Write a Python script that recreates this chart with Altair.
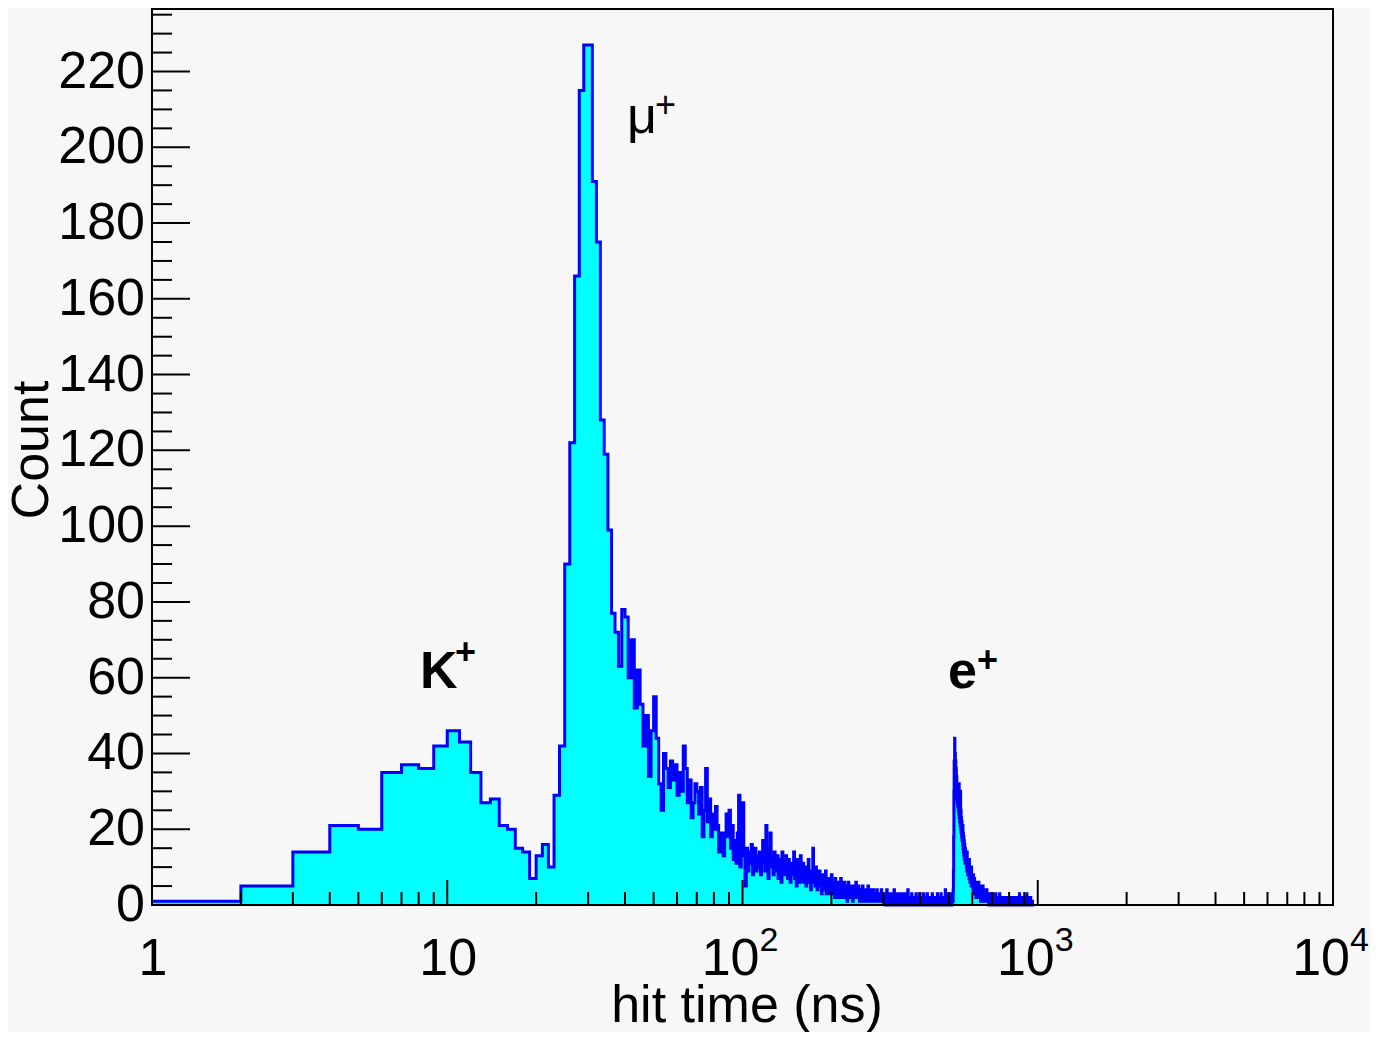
import altair as alt
import pandas as pd

# ---------------- data: counts per 1-ns bin, bin i covers [i, i+1) ns ----------------
counts_k_mu_peak = [1, 5, 14, 21, 20, 35, 37, 36, 42, 46, 43, 35, 27, 28, 21, 20, 15, 14, 7, 13,
                    16, 10, 29, 42, 90, 122, 166, 215, 227, 227, 191, 175, 128, 119, 99, 77, 72]
counts_mu_tail = [63, 78, 76, 60, 70, 52, 62, 53, 42, 50,
                  34, 46, 55, 44, 32, 25, 40, 36, 31, 38,
                  33, 37, 29, 35, 30, 42, 36, 27, 33, 23,
                  27, 32, 30, 24, 31, 18, 25, 36, 22, 28,
                  18, 24, 20, 26, 21, 14, 19, 16, 13, 19,
                  24, 18, 25, 15, 21, 12, 17, 11, 19, 29,
                  10, 16, 27, 13, 5, 15, 9, 14, 11, 16,
                  8, 12, 15, 9, 13]
counts_113_200 = [10, 14, 8, 12, 17, 11, 9, 21, 13, 7, 15, 19, 10, 12, 8, 14,
                  11, 9, 13, 7, 10, 12, 6, 14, 9, 11, 8, 13, 10, 7, 12, 9, 6, 11, 8, 10, 14, 7, 9, 5,
                  12, 8, 10, 6, 13,
                  9, 7, 11, 6, 8, 10, 5, 9, 7, 12, 6, 8, 4, 9, 7, 15, 6, 8, 5, 10, 7, 4, 8, 6, 9, 5,
                  7, 3, 8, 6, 4, 7, 5, 9, 3, 6, 4, 7, 5, 3, 6, 4, 8]
counts_201_300 = [5, 3, 6, 4, 2, 7, 4, 5, 3, 6, 2, 4, 5, 3, 7, 4, 2, 5, 3, 4, 6, 2, 3, 5, 4,
                  1, 3, 6, 2, 4, 3, 5, 2, 4, 3, 1, 5, 3, 2, 4, 3, 6, 2, 3, 4, 2, 5, 3, 1, 4,
                  3, 2, 4, 3, 5, 1, 3, 2, 4, 2, 3, 1, 4, 2, 3, 5, 2, 3, 1, 2, 4, 3, 2, 1, 3,
                  2, 4, 1, 2, 3, 2, 1, 3, 2, 4, 1, 2, 3, 1, 2, 3, 2, 1, 2, 4, 1, 2, 3, 1, 2]
counts_301_510 = [2, 1, 3, 0, 2, 1, 2, 4, 1, 2, 0, 1, 3, 2, 1, 2, 0, 1, 2, 3, 1, 0, 2, 1, 2,
                  4, 1, 0, 2, 1, 3, 1, 2, 0, 1, 2, 1, 3, 0, 1, 2, 1, 0, 2, 1, 3, 1, 0, 2, 1,
                  1, 2, 0, 1, 3, 1, 0, 2, 1, 1, 0, 2, 4, 1, 0, 1, 2, 0, 1, 2, 1, 0, 1, 3, 0,
                  1, 2, 0, 1, 1, 2, 0, 1, 0, 2, 1, 3, 0, 1, 2, 0, 1, 1, 0, 2, 1, 0, 3, 1, 0,
                  1, 2, 0, 1, 0, 2, 1, 0, 1, 3, 0, 1, 2, 0, 1, 0, 1, 2, 0, 1, 0, 3, 1, 0, 1,
                  2, 0, 1, 0, 1, 2, 0, 1, 0, 2, 1, 0, 1, 3, 0, 1, 0, 2, 1, 0, 1, 0, 2, 1, 0,
                  1, 0, 2, 1, 0, 1, 3, 0, 1, 0, 2, 1, 0, 1, 2, 0, 1, 0, 1, 3, 0, 1, 0, 2, 1,
                  0, 1, 2, 0, 1, 0, 2, 1, 0, 1, 4, 0, 1, 2, 0, 1, 0, 2, 1, 0, 3, 1, 0, 1, 2,
                  0, 1, 2, 0, 1, 3, 1, 0, 2, 1]
counts_e_peak = [1, 0, 2, 1, 2, 1, 4, 9, 18, 30,
                 38, 35, 44, 37, 40, 33, 38, 31, 36, 30,
                 34, 28, 32, 27, 31, 26, 30, 25, 29, 24,
                 32, 23, 28, 22, 26, 21, 30, 20, 25, 19,
                 23, 18, 22, 17, 20, 16, 21, 15, 19, 14,
                 18, 13, 17, 12, 16, 14, 11, 15, 12, 14,
                 11, 13, 10, 12, 9, 14, 10, 11, 8, 12,
                 9, 11, 8, 10, 7, 12, 8, 9, 6, 10,
                 7, 9, 6, 8, 5, 10, 6, 7, 5, 8,
                 5, 7, 4, 6, 8, 4, 6, 3, 5, 7, 4, 5, 3, 6, 4, 5, 2, 6, 3, 4]
counts_621_700 = [5, 3, 4, 6, 2, 4, 3, 5, 2, 4, 6, 3, 2, 4, 3, 5, 2, 3, 4, 1,
                  3, 5, 2, 3, 4, 2, 3, 1, 4, 2, 3, 5, 2, 1, 3, 2, 4, 1, 3, 2,
                  3, 1, 2, 4, 1, 3, 2, 1, 3, 2, 1, 4, 2, 1, 3, 2, 1, 2, 3, 1,
                  2, 0, 3, 1, 2, 1, 3, 0, 2, 1, 2, 1, 0, 3, 1, 2, 1, 0, 2, 1]
counts_701_800 = [2, 1, 3, 0, 1, 2, 1, 0, 2, 1, 3, 1, 0, 2, 1, 1, 0, 2, 1, 0,
                  3, 1, 0, 1, 2, 0, 1, 1, 0, 2, 1, 0, 1, 2, 0, 1, 0, 1, 2, 0,
                  1, 0, 3, 1, 0, 1, 0, 1, 2, 0, 1, 0, 1, 0, 2, 1, 0, 1, 0, 1,
                  2, 0, 1, 0, 0, 1, 2, 0, 1, 0, 1, 0, 1, 2, 0, 0, 1, 0, 1, 0,
                  2, 0, 1, 0, 0, 1, 0, 2, 0, 1, 0, 0, 1, 0, 1, 0, 2, 0, 0, 1]
counts_801_960 = [0, 1, 0, 0, 2, 0, 1, 0, 0, 1, 0, 0, 1, 0, 2, 0, 0, 1, 0, 0,
                  0, 1, 0, 1, 0, 0, 2, 0, 0, 1, 0, 0, 1, 0, 0, 0, 1, 0, 2, 0,
                  0, 1, 0, 0, 0, 1, 0, 0, 1, 0,
                  0, 0, 1, 0, 0, 2, 0, 0, 0, 1, 0, 0, 1, 0, 0, 0, 3, 0, 0, 1,
                  0, 0, 0, 1, 0, 0, 0, 2, 0, 0, 0, 1, 0, 0, 0, 0, 1, 0, 0, 0,
                  2, 0, 0, 0, 1, 0, 0, 0, 0, 1,
                  0, 0, 0, 1, 0, 0, 0, 2, 0, 0, 0, 0, 1, 0, 0, 0, 0, 3, 0, 0,
                  0, 0, 1, 0, 0, 0, 0, 0, 2, 0, 0, 0, 0, 1, 0, 0, 0, 0, 0, 1,
                  0, 0, 0, 0, 0, 2, 0, 0, 0, 0, 0, 1, 0, 0, 0, 0, 0, 0, 1, 0]

counts = (counts_k_mu_peak + counts_mu_tail + counts_113_200 + counts_201_300 +
          counts_301_510 + counts_e_peak + counts_621_700 + counts_701_800 + counts_801_960)

# axis tick values / labels / titles
y_major = list(range(0, 221, 20))
y_minor = [v for v in range(5, 236, 5) if v % 20 != 0]
x_major = [1, 10, 100, 1000, 10000]
x_minor = [m * d for d in [1, 10, 100, 1000] for m in range(2, 10)]
x_label_base = ["1", "10", "10", "10", "10"]
x_label_exp = ["", "", "2", "3", "4"]
x_title = "hit time (ns)"
y_title = "Count"

# peak annotations
ann_main = ["μ", "K", "e"]
ann_t = [40.6, 8.09, 496.6]
ann_c = [203.8, 57.3, 57.3]
ann_bold = [False, True, True]
ann_plus_t = [50.5, 10.62, 622.6]
ann_plus_c = [208.0, 63.6, 61.5]

# ---------------- tables ----------------
edges = list(range(1, len(counts) + 2))
hist = pd.DataFrame({"t": edges, "count": counts + [0]})
ymaj_df = pd.DataFrame({"v": y_major, "lab": [str(v) for v in y_major]})
ymin_df = pd.DataFrame({"v": y_minor})
xmaj_df = pd.DataFrame({"v": x_major})
xmin_df = pd.DataFrame({"v": x_minor})
xlab_df = pd.DataFrame({"v": x_major, "base": x_label_base, "exp": x_label_exp})
ann_df = pd.DataFrame({"t": ann_t, "c": ann_c, "label": ann_main, "bold": ann_bold,
                       "pt": ann_plus_t, "pc": ann_plus_c, "plus": ["+"] * 3})
title_df = pd.DataFrame({"xt": [x_title], "yt": [y_title]})

W, H = 1181, 896
FONT = "Liberation Sans"
xscale = alt.Scale(type="log", domain=[1, 10000], nice=False)
yscale = alt.Scale(domain=[0, 236.5], nice=False, zero=True)


def X(field):
    return alt.X(field, scale=xscale, axis=None)


def Y(field):
    return alt.Y(field, scale=yscale, axis=None)


area = alt.Chart(hist).mark_area(interpolate="step-after", color="#00ffff").encode(
    x=X("t:Q"), y=Y("count:Q"))

line = alt.Chart(hist).mark_line(interpolate="step-after", color="#0000ff",
                                 strokeWidth=3).encode(x=X("t:Q"), y=Y("count:Q"))

frame_bottom = alt.Chart(ymaj_df).mark_rule(color="black", strokeWidth=2).encode(
    x=alt.value(0), x2=alt.value(W), y=alt.value(H))
frame_left = alt.Chart(ymaj_df).mark_rule(color="black", strokeWidth=2).encode(
    x=alt.value(0), y=alt.value(0), y2=alt.value(H))

ytick_major = alt.Chart(ymaj_df).mark_rule(color="black", strokeWidth=2).encode(
    y=Y("v:Q"), x=alt.value(0), x2=alt.value(38))
ytick_minor = alt.Chart(ymin_df).mark_rule(color="black", strokeWidth=2).encode(
    y=Y("v:Q"), x=alt.value(0), x2=alt.value(20))
xtick_major = alt.Chart(xmaj_df).mark_rule(color="black", strokeWidth=2).encode(
    x=X("v:Q"), y=alt.value(H), y2=alt.value(H - 25))
xtick_minor = alt.Chart(xmin_df).mark_rule(color="black", strokeWidth=2).encode(
    x=X("v:Q"), y=alt.value(H), y2=alt.value(H - 13))

ylab = alt.Chart(ymaj_df).mark_text(
    font=FONT, fontSize=52, color="black", align="right", baseline="middle", dx=-7
).encode(x=alt.value(0), y=Y("v:Q"), text="lab:N")

xlab_plain = alt.Chart(xlab_df).transform_filter("datum.exp == ''").mark_text(
    font=FONT, fontSize=52, color="black", align="center", baseline="alphabetic", dx=1
).encode(x=X("v:Q"), y=alt.value(966), text="base:N")
xlab_base = alt.Chart(xlab_df).transform_filter("datum.exp != ''").mark_text(
    font=FONT, fontSize=52, color="black", align="right", baseline="alphabetic", dx=17
).encode(x=X("v:Q"), y=alt.value(966), text="base:N")
xlab_exp = alt.Chart(xlab_df).transform_filter("datum.exp != ''").mark_text(
    font=FONT, fontSize=34, color="black", align="left", baseline="alphabetic", dx=17
).encode(x=X("v:Q"), y=alt.value(942), text="exp:N")

xtitle = alt.Chart(title_df).mark_text(
    font=FONT, fontSize=52, color="black", align="center", baseline="alphabetic"
).encode(x=alt.value(595), y=alt.value(1013), text="xt:N")
ytitle = alt.Chart(title_df).mark_text(
    font=FONT, fontSize=52, color="black", align="center", baseline="alphabetic",
    angle=270
).encode(x=alt.value(-104), y=alt.value(441), text="yt:N")

ann_normal = alt.Chart(ann_df).transform_filter("!datum.bold").mark_text(
    font=FONT, fontSize=52, color="black", align="left", baseline="alphabetic"
).encode(x=X("t:Q"), y=Y("c:Q"), text="label:N")
ann_boldm = alt.Chart(ann_df).transform_filter("datum.bold").mark_text(
    font=FONT, fontSize=52, fontWeight="bold", color="black", align="left",
    baseline="alphabetic"
).encode(x=X("t:Q"), y=Y("c:Q"), text="label:N")
plus_normal = alt.Chart(ann_df).transform_filter("!datum.bold").mark_text(
    font=FONT, fontSize=36, color="black", align="left", baseline="alphabetic"
).encode(x=X("pt:Q"), y=Y("pc:Q"), text="plus:N")
plus_bold = alt.Chart(ann_df).transform_filter("datum.bold").mark_text(
    font=FONT, fontSize=36, fontWeight="bold", color="black", align="left",
    baseline="alphabetic"
).encode(x=X("pt:Q"), y=Y("pc:Q"), text="plus:N")

chart = alt.layer(
    area, line, frame_bottom, frame_left,
    ytick_major, ytick_minor, xtick_major, xtick_minor,
    ylab, xlab_plain, xlab_base, xlab_exp, xtitle, ytitle,
    ann_normal, ann_boldm, plus_normal, plus_bold,
).properties(
    width=W, height=H,
    autosize=alt.AutoSizeParams(type="none"),
    padding={"left": 144, "top": 1, "right": 37, "bottom": 127},
    background="#f7f7f7",
).configure_view(stroke="black", strokeWidth=2)

chart.save("out.html", embed_options={"renderer": "svg", "actions": False})
